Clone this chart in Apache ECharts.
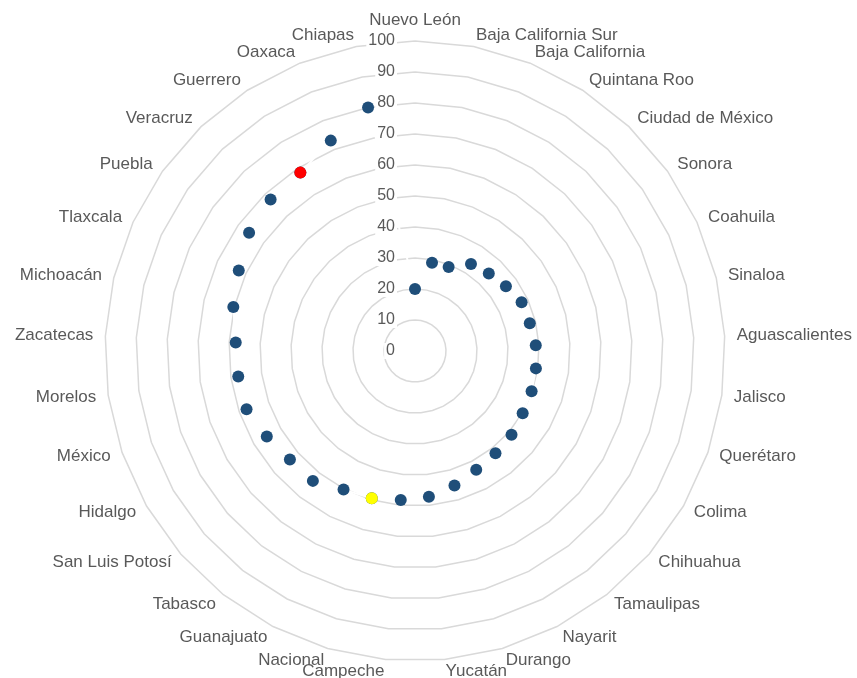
<!DOCTYPE html>
<html>
<head>
<meta charset="utf-8">
<script src="https://cdn.jsdelivr.net/npm/echarts@6/dist/echarts.min.js"></script>
<style>
html,body{margin:0;padding:0;background:#ffffff;}
#chart{width:857px;height:678px;}
</style>
</head>
<body>
<div id="chart"></div>
<script>
const categories = [
  'Nuevo León','Baja California Sur','Baja California','Quintana Roo','Ciudad de México',
  'Sonora','Coahuila','Sinaloa','Aguascalientes','Jalisco','Querétaro','Colima',
  'Chihuahua','Tamaulipas','Nayarit','Durango','Yucatán','Campeche','Nacional',
  'Guanajuato','Tabasco','San Luis Potosí','Hidalgo','México','Morelos','Zacatecas',
  'Michoacán','Tlaxcala','Puebla','Veracruz','Guerrero','Oaxaca','Chiapas'
];
const values = [
  20, 29, 29.2, 33.4, 34.5,
  36, 37.8, 38.1, 39, 39.4, 39.8, 40.1,
  41.2, 42, 43.1, 45.2, 47.2, 48.3, 49.5,
  50.3, 53.3, 53.4, 55.2, 57.5, 57.6, 57.9,
  60.3, 62.5, 65.7, 67.5, 68.4, 73.1, 80
];
const axisMin = 0;
const axisMax = 100;
const axisSplits = 10;
const redCategories = ['Guerrero'];
const yellowCategories = ['Nacional'];

const FONT = "'Liberation Sans', Arial, sans-serif";
const TEXT_COLOR = '#595959';
const CENTER = [415, 351];
const RADIUS = 310;

// ECharts radar runs counter-clockwise; reorder (keep first at top) so the
// categories appear clockwise like the reference.
const order = [0].concat(categories.map(function (_, i) { return i; }).slice(1).reverse());
const radarCategories = order.map(function (i) { return categories[i]; });
const radarValues = order.map(function (i) { return values[i]; });

const gridIndicator = radarCategories.map(function (name) {
  return { name: name, min: axisMin, max: axisMax };
});
// Second (overlay) radar only carries the tick labels on the first axis, drawn on top.
const labelIndicator = radarCategories.map(function (name, i) {
  const ind = { name: name, min: axisMin, max: axisMax };
  if (i === 0) {
    ind.axisLabel = {
      show: true,
      color: TEXT_COLOR,
      fontSize: 16,
      fontFamily: FONT,
      margin: 18,
      backgroundColor: '#ffffff',
      padding: [0, 2, 0, 2]
    };
  }
  return ind;
});

function pointsFor(list) {
  return list.map(function (name) {
    const idx = categories.indexOf(name);
    return [values[idx], name];
  });
}

const chart = echarts.init(document.getElementById('chart'), null, { renderer: 'canvas' });
chart.setOption({
  animation: false,
  backgroundColor: '#ffffff',
  radar: [
    {
      center: CENTER,
      radius: RADIUS,
      startAngle: 90,
      splitNumber: axisSplits,
      shape: 'polygon',
      indicator: gridIndicator,
      axisName: {
        color: TEXT_COLOR,
        fontSize: 17,
        fontFamily: FONT
      },
      nameGap: 12,
      axisLine: { show: false },
      axisTick: { show: false },
      axisLabel: { show: false },
      splitArea: { show: false },
      splitLine: { lineStyle: { color: '#d9d9d9', width: 1.5 } }
    },
    {
      z: 10,
      center: CENTER,
      radius: RADIUS,
      startAngle: 90,
      splitNumber: axisSplits,
      shape: 'polygon',
      indicator: labelIndicator,
      axisName: { show: false },
      axisLine: { show: false },
      axisTick: { show: false },
      axisLabel: { show: false },
      splitArea: { show: false },
      splitLine: { show: false }
    }
  ],
  polar: {
    center: CENTER,
    radius: RADIUS
  },
  angleAxis: {
    type: 'category',
    data: categories,
    startAngle: 90,
    clockwise: true,
    boundaryGap: false,
    show: false
  },
  radiusAxis: {
    type: 'value',
    min: axisMin,
    max: axisMax,
    show: false
  },
  series: [
    {
      type: 'radar',
      radarIndex: 0,
      symbol: 'circle',
      symbolSize: 12,
      itemStyle: { color: '#1f4e79', opacity: 1 },
      lineStyle: { color: '#ffffff', width: 2 },
      emphasis: { disabled: true },
      data: [{ value: radarValues, name: 'Valor' }]
    },
    {
      type: 'scatter',
      coordinateSystem: 'polar',
      symbol: 'circle',
      symbolSize: 12,
      z: 5,
      itemStyle: { color: '#ff0000', opacity: 1 },
      emphasis: { disabled: true },
      data: pointsFor(redCategories)
    },
    {
      type: 'scatter',
      coordinateSystem: 'polar',
      symbol: 'circle',
      symbolSize: 12,
      z: 5,
      itemStyle: { color: '#ffff00', opacity: 1 },
      emphasis: { disabled: true },
      data: pointsFor(yellowCategories)
    }
  ]
});
</script>
</body>
</html>
